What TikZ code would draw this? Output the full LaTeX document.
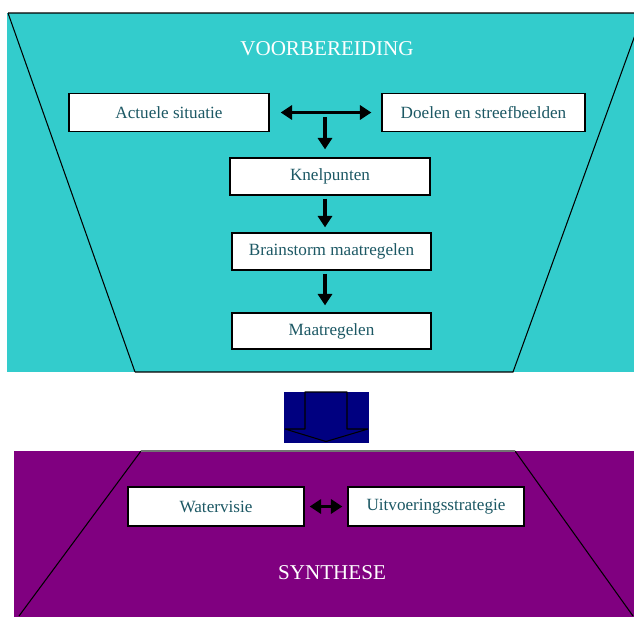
\documentclass[tikz,border=0pt]{standalone}
\usepackage{fontspec}
\setmainfont{Liberation Serif}
\usetikzlibrary{arrows.meta, positioning, calc}

\definecolor{voorcyan}{RGB}{51,204,204}
\definecolor{synpurple}{RGB}{128,0,128}
\definecolor{pijlnavy}{RGB}{0,0,128}
\definecolor{boxtekst}{RGB}{28,88,100}

\begin{document}
\begin{tikzpicture}[
    >={Triangle[length=6.5pt, width=8pt]},
    stapbox/.style={draw, fill=white, line width=0.7pt, minimum width=4cm,
                    minimum height=0.76cm, inner sep=2pt, text=boxtekst,
                    font=\fontsize{9.75}{12}\selectfont},
    titel/.style={text=white, font=\fontsize{12}{14}\selectfont},
    pijl/.style={->, line width=1.8pt},
    trapezium/.style={draw, line width=0.6pt}
  ]
  \useasboundingbox (0,0) rectangle (12.68,12.34);
  \clip (0,0) rectangle (12.68,12.34);

  % Voorbereiding: cyan blok met trechter
  \fill[voorcyan] (0.14,4.90) rectangle (12.80,12.08);
  \draw[trapezium] (0.16,12.08) -- (12.86,12.08) -- (10.26,4.90) -- (2.70,4.90);
  \draw[trapezium] (0.16,12.08) -- (2.70,4.90);
  \node[titel] (voor) at (6.54,11.36) {VOORBEREIDING};

  \node[stapbox] (actueel) at (3.38,10.09) {Actuele situatie};
  \node[stapbox, minimum width=4.06cm] (doelen) at (9.67,10.09) {Doelen en streefbeelden};
  \node[stapbox, minimum height=0.74cm] (knel) at (6.60,8.81) {Knelpunten};
  \node[stapbox, minimum width=3.98cm, minimum height=0.74cm] (brain) at (6.63,7.31) {Brainstorm maatregelen};
  \node[stapbox, minimum width=3.98cm, minimum height=0.72cm] (maat) at (6.63,5.72) {Maatregelen};
  \coordinate (splits) at (6.50,10.00);

  \draw[pijl, <->, shorten <=0.22cm, shorten >=0.2cm] (actueel) -- (doelen);
  \draw[pijl] (splits) -- ($(knel.north -| splits)+(0,0.16)$);
  \draw[pijl, shorten <=0.06cm, shorten >=0.1cm] (knel.south -| splits) -- (brain.north -| splits);
  \draw[pijl, shorten <=0.06cm, shorten >=0.14cm] (brain.south -| splits) -- (maat.north -| splits);

  % Blokpijl naar synthese
  \fill[pijlnavy] (5.68,3.48) rectangle (7.38,4.50);
  \draw[fill=pijlnavy, line width=0.6pt, line join=bevel] (6.10,4.50) -- (6.94,4.50) -- (6.94,3.76)
    -- (7.36,3.76) -- (6.52,3.51) -- (5.70,3.76) -- (6.10,3.76) -- cycle;

  % Synthese: paars blok met omgekeerde trechter
  \fill[synpurple] (0.28,0) rectangle (12.80,3.32);
  \draw[trapezium] (0.38,0.02) -- (2.82,3.32);
  \draw[trapezium] (10.30,3.32) -- (12.66,0.02);
  \draw[trapezium, draw=black!55] (2.82,3.32) -- (10.30,3.32);

  \node[stapbox, minimum width=3.52cm, minimum height=0.78cm] (water) at (4.32,2.21) {Watervisie};
  \node[stapbox, minimum width=3.52cm, minimum height=0.78cm] (uitv) at (8.72,2.21) {Uitvoeringsstrategie};
  \draw[pijl, <->, shorten <=0.1cm, shorten >=0.1cm] (water) -- (uitv);
  \node[titel] (syn) at (6.64,0.88) {SYNTHESE};
\end{tikzpicture}
\end{document}
